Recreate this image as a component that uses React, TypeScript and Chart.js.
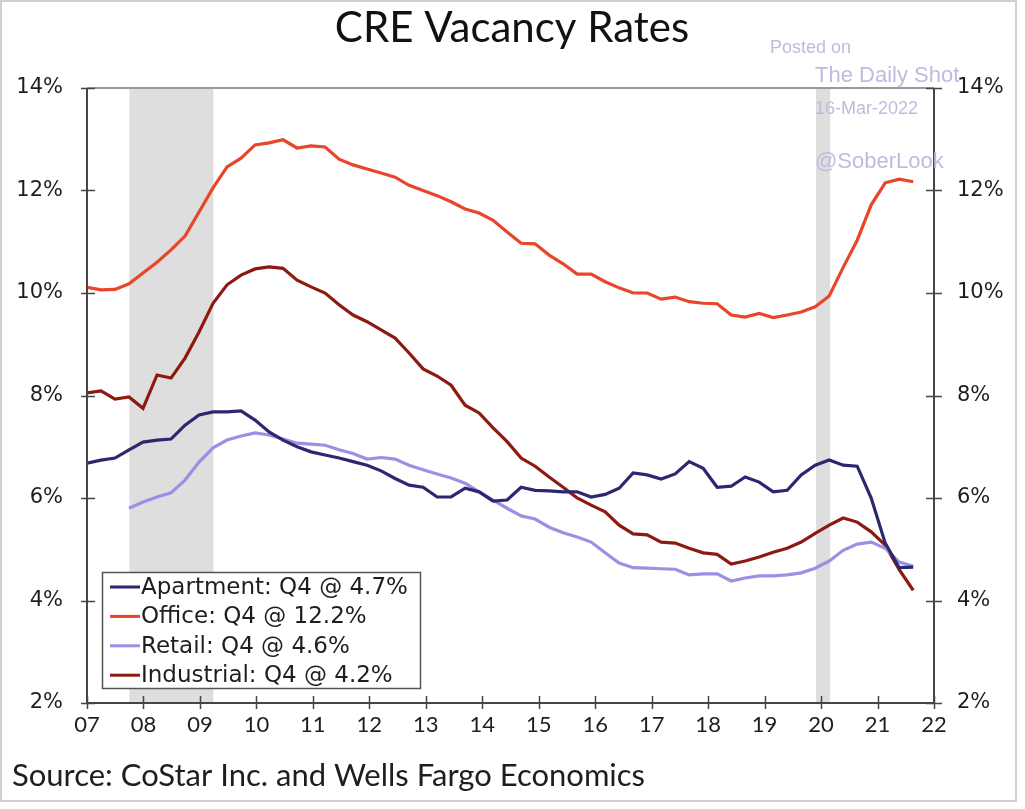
import React, { useEffect, useRef } from "react";
import { Chart, registerables } from "chart.js";

Chart.register(...registerables);

// Quarterly observations, 2007Q1 .. 2021Q4
const quarters: string[] = [];
for (let y = 2007; y <= 2021; y++) for (let q = 1; q <= 4; q++) quarters.push(`${y}Q${q}`);
// plotting position of each quarter along the year axis (as placed in the source chart)
const QUARTER_STEP = 0.248;
const xPos = quarters.map((_, i) => 2007 + i * QUARTER_STEP);

const apartment = [
  6.68, 6.74, 6.78, 6.94, 7.09, 7.13, 7.15, 7.42, 7.62, 7.68,
  7.68, 7.70, 7.52, 7.29, 7.13, 7.00, 6.90, 6.84, 6.78, 6.71,
  6.64, 6.53, 6.38, 6.25, 6.21, 6.02, 6.02, 6.19, 6.12, 5.94,
  5.96, 6.21, 6.15, 6.14, 6.12, 6.12, 6.02, 6.07, 6.19, 6.49,
  6.45, 6.37, 6.47, 6.71, 6.58, 6.21, 6.23, 6.41, 6.31, 6.12,
  6.15, 6.45, 6.64, 6.74, 6.64, 6.62, 6.00, 5.12, 4.64, 4.65,
];
const office = [
  10.11, 10.06, 10.07, 10.18, 10.39, 10.60, 10.84, 11.11, 11.58, 12.05,
  12.46, 12.63, 12.89, 12.93, 12.99, 12.83, 12.87, 12.85, 12.61, 12.50,
  12.42, 12.34, 12.26, 12.10, 12.00, 11.90, 11.78, 11.64, 11.56, 11.42,
  11.19, 10.97, 10.96, 10.74, 10.57, 10.37, 10.37, 10.22, 10.10, 10.00,
  10.00, 9.88, 9.92, 9.83, 9.80, 9.79, 9.57, 9.53, 9.60, 9.52,
  9.57, 9.63, 9.73, 9.94, 10.50, 11.03, 11.72, 12.15, 12.22, 12.17,
];
const retail = [
  null, null, null, 5.80, 5.92, 6.02, 6.10, 6.35, 6.70, 6.98,
  7.13, 7.21, 7.27, 7.23, 7.15, 7.07, 7.05, 7.03, 6.94, 6.87,
  6.76, 6.79, 6.76, 6.64, 6.55, 6.47, 6.39, 6.29, 6.12, 5.96,
  5.80, 5.65, 5.59, 5.43, 5.32, 5.24, 5.14, 4.93, 4.73, 4.64,
  4.63, 4.62, 4.61, 4.50, 4.52, 4.52, 4.38, 4.44, 4.48, 4.48,
  4.50, 4.54, 4.63, 4.77, 4.98, 5.10, 5.14, 5.02, 4.75, 4.67,
];
const industrial = [
  8.05, 8.09, 7.93, 7.97, 7.75, 8.40, 8.34, 8.73, 9.24, 9.80,
  10.16, 10.35, 10.47, 10.51, 10.48, 10.25, 10.12, 10.00, 9.77, 9.57,
  9.44, 9.28, 9.12, 8.83, 8.52, 8.38, 8.20, 7.81, 7.66, 7.37,
  7.10, 6.78, 6.62, 6.41, 6.21, 6.00, 5.86, 5.73, 5.47, 5.30,
  5.28, 5.14, 5.12, 5.02, 4.93, 4.90, 4.71, 4.77, 4.85, 4.94,
  5.02, 5.14, 5.31, 5.47, 5.61, 5.53, 5.34, 5.08, 4.60, 4.20,
];

const seriesLabels = [
  "Apartment: Q4 @ 4.7%",
  "Office: Q4 @ 12.2%",
  "Retail: Q4 @ 4.6%",
  "Industrial: Q4 @ 4.2%",
];
const seriesColors = ["#2b2870", "#e8452a", "#9d8fe3", "#8c1a10"];

const yTicks = [2, 4, 6, 8, 10, 12, 14];
const xTicks = [2007, 2008, 2009, 2010, 2011, 2012, 2013, 2014, 2015, 2016, 2017, 2018, 2019, 2020, 2021, 2022];
const recessions: [number, number][] = [
  [2007.75, 2009.24],
  [2019.91, 2020.16],
];

const titleText = "CRE Vacancy Rates";
const sourceText = "Source: CoStar Inc. and Wells Fargo Economics";
const watermark = ["Posted on", "The Daily Shot", "16-Mar-2022", "@SoberLook"];

const toPoints = (vals: (number | null)[]) => vals.map((v, i) => ({ x: xPos[i], y: v }));

const decorPlugin = {
  id: "decor",
  beforeDatasetsDraw(chart: any) {
    const { ctx, chartArea: a, scales } = chart;
    const x = scales.x;
    ctx.save();
    ctx.fillStyle = "#dedede";
    recessions.forEach(([s, e]) => {
      const x0 = x.getPixelForValue(s);
      const x1 = x.getPixelForValue(e);
      ctx.fillRect(x0, a.top, x1 - x0, a.bottom - a.top);
    });
    ctx.restore();
  },
  afterDatasetsDraw(chart: any) {
    const { ctx, chartArea: a, scales } = chart;
    ctx.save();
    // top border
    ctx.strokeStyle = "#9a9a9a";
    ctx.lineWidth = 2;
    ctx.beginPath();
    ctx.moveTo(a.left, a.top);
    ctx.lineTo(a.right, a.top);
    ctx.stroke();
    // axes
    ctx.strokeStyle = "#454545";
    ctx.lineWidth = 2;
    ctx.beginPath();
    ctx.moveTo(a.left, a.top);
    ctx.lineTo(a.left, a.bottom);
    ctx.lineTo(a.right, a.bottom);
    ctx.lineTo(a.right, a.top);
    ctx.stroke();
    // crossing tick marks
    ctx.lineWidth = 1.5;
    ctx.beginPath();
    yTicks.forEach((v) => {
      const py = Math.round(scales.y.getPixelForValue(v)) + 0.5;
      ctx.moveTo(a.left - 6, py);
      ctx.lineTo(a.left + 8, py);
      ctx.moveTo(a.right - 8, py);
      ctx.lineTo(a.right + 8, py);
    });
    xTicks.forEach((v) => {
      const px = Math.round(scales.x.getPixelForValue(v)) + 0.5;
      ctx.moveTo(px, a.bottom - 7);
      ctx.lineTo(px, a.bottom + 6);
    });
    ctx.stroke();

    // legend
    const lx = 102.5, ly = 572.5, lw = 318, lh = 116;
    ctx.fillStyle = "#ffffff";
    ctx.fillRect(lx, ly, lw, lh);
    ctx.strokeStyle = "#555555";
    ctx.lineWidth = 1.5;
    ctx.strokeRect(lx, ly, lw, lh);
    ctx.font = "23px 'DejaVu Sans'";
    ctx.textBaseline = "middle";
    ctx.textAlign = "left";
    chart.data.datasets.forEach((ds: any, i: number) => {
      const cy = 587 + i * 29.4;
      ctx.strokeStyle = ds.borderColor;
      ctx.lineWidth = 3;
      ctx.beginPath();
      ctx.moveTo(110, cy);
      ctx.lineTo(140, cy);
      ctx.stroke();
      ctx.fillStyle = "#1e1e1e";
      ctx.fillText(ds.label, 141, cy + 1);
    });
    ctx.restore();
  },
  afterDraw(chart: any) {
    const { ctx } = chart;
    ctx.save();
    // outer frame
    ctx.strokeStyle = "#d0d0d0";
    ctx.lineWidth = 2;
    ctx.strokeRect(1, 1, 1015, 800);
    // title
    ctx.fillStyle = "#111111";
    ctx.font = "42px Lato";
    ctx.textAlign = "center";
    ctx.textBaseline = "middle";
    ctx.fillText(titleText, 512, 28);
    // watermark
    ctx.textAlign = "left";
    ctx.fillStyle = "#bcbcde";
    ctx.font = "18px 'Liberation Sans'";
    ctx.fillText(watermark[0], 770, 48);
    ctx.font = "22px 'Liberation Sans'";
    ctx.fillText(watermark[1], 815, 76);
    ctx.font = "18px 'Liberation Sans'";
    ctx.fillText(watermark[2], 815, 109);
    ctx.font = "22px 'Liberation Sans'";
    ctx.fillText(watermark[3], 815, 162);
    // source
    ctx.fillStyle = "#1e1e1e";
    ctx.font = "31px Lato";
    ctx.fillText(sourceText, 12, 776);
    ctx.restore();
  },
};

export default function App() {
  const canvasRef = useRef<HTMLCanvasElement | null>(null);

  useEffect(() => {
    if (!canvasRef.current) return;
    const seriesValues = [apartment, office, retail, industrial];
    const chart = new Chart(canvasRef.current, {
      type: "line",
      data: {
        datasets: seriesValues.map((vals, i) => ({
          label: seriesLabels[i],
          data: toPoints(vals),
          borderColor: seriesColors[i],
          backgroundColor: seriesColors[i],
          borderWidth: 3.2,
          pointRadius: 0,
          tension: 0,
          spanGaps: false,
          yAxisID: "y",
        })),
      },
      options: {
        responsive: false,
        animation: false,
        devicePixelRatio: 1,
        layout: { padding: { top: 88, left: 0, right: 0, bottom: 0 } },
        plugins: {
          legend: { display: false },
          title: { display: false },
          tooltip: { enabled: false },
        },
        scales: {
          x: {
            type: "linear",
            min: 2007,
            max: 2022,
            afterFit: (s: any) => { s.height = 106; },
            afterBuildTicks: (s: any) => { s.ticks = xTicks.map((v) => ({ value: v })); },
            grid: { display: false, drawTicks: false },
            border: { display: false },
            ticks: {
              autoSkip: false,
              maxRotation: 0,
              padding: 9,
              color: "#1e1e1e",
              font: { family: "Lato", size: 22 },
              callback: (v: any) => String(v).slice(2),
            },
          },
          y: {
            type: "linear",
            position: "left",
            min: 2,
            max: 14,
            afterFit: (s: any) => { s.width = 87; },
            afterBuildTicks: (s: any) => { s.ticks = yTicks.map((v) => ({ value: v })); },
            grid: { display: false, drawTicks: false },
            border: { display: false },
            ticks: {
              padding: 24,
              color: "#1e1e1e",
              font: { family: "DejaVu Sans", size: 21 },
              callback: (v: any) => `${v}%`,
            },
          },
          y2: {
            type: "linear",
            position: "right",
            min: 2,
            max: 14,
            afterFit: (s: any) => { s.width = 91; },
            afterBuildTicks: (s: any) => { s.ticks = yTicks.map((v) => ({ value: v })); },
            grid: { display: false, drawTicks: false },
            border: { display: false },
            ticks: {
              padding: 23,
              color: "#1e1e1e",
              font: { family: "DejaVu Sans", size: 21 },
              callback: (v: any) => `${v}%`,
            },
          },
        },
      },
      plugins: [decorPlugin],
    } as any);
    return () => chart.destroy();
  }, []);

  return (
    <div style={{ position: "absolute", left: 0, top: 0, width: 1025, height: 809, background: "#ffffff" }}>
      <canvas ref={canvasRef} width={1025} height={809} />
    </div>
  );
}
